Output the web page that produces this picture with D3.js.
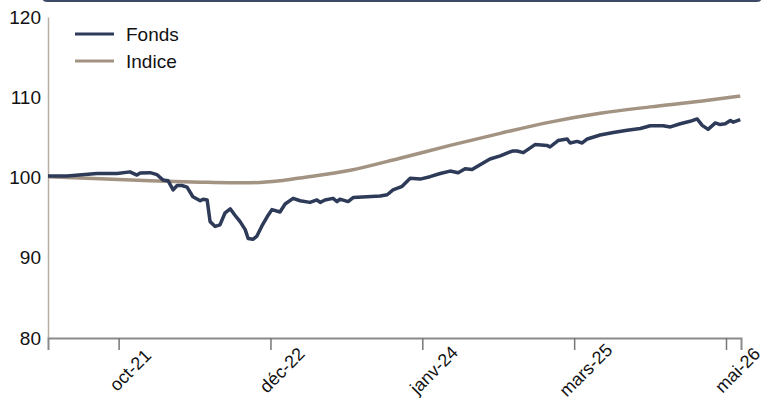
<!DOCTYPE html>
<html>
<head>
<meta charset="utf-8">
<script src="https://cdn.jsdelivr.net/npm/d3@7"></script>
<style>
	body { margin: 0; background: #fff; }
	svg { display: block; font-family: "Liberation Sans", Arial, sans-serif; }
</style>
</head>
<body>
<div id="perf-chart"></div>
<script>
var seriesNames = ["Fonds", "Indice"];
var seriesColors = ["#2d3a58", "#a39382"];

var fondsDates = ["2021-04-10","2021-06-01","2021-08-22","2021-10-16","2021-11-20","2021-12-09","2021-12-18",
	"2022-01-14","2022-02-02","2022-02-18","2022-03-04","2022-03-18","2022-03-29","2022-04-11","2022-04-25",
	"2022-05-11","2022-05-31","2022-06-08","2022-06-19","2022-06-27","2022-07-11","2022-07-24","2022-08-07",
	"2022-08-21","2022-09-03","2022-09-17","2022-10-01","2022-10-09","2022-10-22","2022-11-02","2022-11-16",
	"2022-11-30","2022-12-13","2023-01-04","2023-01-18","2023-02-09","2023-02-28","2023-03-27","2023-04-15",
	"2023-04-24","2023-05-07","2023-05-29","2023-06-09","2023-06-17","2023-07-09","2023-07-23","2023-08-30",
	"2023-10-05","2023-10-24","2023-11-09","2023-12-04","2023-12-26","2024-01-22","2024-02-18","2024-03-17",
	"2024-04-13","2024-05-05","2024-05-24","2024-06-12","2024-07-04","2024-07-31","2024-08-28","2024-09-30",
	"2024-10-13","2024-10-30","2024-12-01","2025-01-03","2025-01-11","2025-02-02","2025-02-27","2025-03-07",
	"2025-03-26","2025-04-09","2025-04-23","2025-05-28","2025-07-03","2025-08-10","2025-09-15","2025-10-12",
	"2025-11-16","2025-12-06","2026-01-02","2026-01-29","2026-02-17","2026-03-03","2026-03-19","2026-04-08",
	"2026-04-21","2026-05-05","2026-05-19","2026-05-27","2026-06-15"];
var fondsValues = [100.2,100.2,100.5,100.5,100.7,100.3,100.55,
	100.6,100.35,99.7,99.6,98.45,99.0,99.0,98.8,
	97.6,97.1,97.3,97.2,94.5,93.9,94.1,95.6,
	96.1,95.3,94.5,93.5,92.4,92.3,92.7,94.0,
	95.1,96.0,95.7,96.7,97.4,97.1,96.9,97.2,
	96.9,97.2,97.4,97.0,97.3,97.0,97.5,97.6,
	97.7,97.85,98.45,98.9,99.9,99.8,100.1,100.5,
	100.8,100.6,101.1,101.0,101.6,102.3,102.7,103.3,
	103.3,103.1,104.1,104.0,103.8,104.6,104.8,104.3,
	104.5,104.3,104.8,105.3,105.6,105.9,106.1,106.45,
	106.45,106.3,106.7,107.0,107.3,106.5,106.0,106.8,
	106.6,106.7,107.1,106.9,107.2];

var indiceDates = ["2021-04-10","2021-08-30","2022-01-14","2022-05-31","2022-08-20","2022-10-14","2023-01-04",
	"2023-02-28","2023-07-15","2023-11-28","2024-04-13","2024-08-28","2025-01-11","2025-05-28","2025-10-12",
	"2026-02-26","2026-06-15"];
var indiceValues = [100.1,99.85,99.6,99.42,99.35,99.35,99.6,
	99.95,100.9,102.4,104.0,105.5,106.9,108.0,108.8,
	109.5,110.15];

var tickDates = ["2021-10-20","2022-12-09","2024-01-28","2025-03-18","2026-05-07"];
var tickLabels = ["oct-21","déc-22","janv-24","mars-25","mai-26"];
var yTicks = [80, 90, 100, 110, 120];

var parseDate = d3.timeParse("%Y-%m-%d");

function makeSeries(dates, values) {
	return dates.map(function(d, i) { return {date: parseDate(d), value: values[i]}; });
}

var fonds = makeSeries(fondsDates, fondsValues);
var indice = makeSeries(indiceDates, indiceValues);

var W = 763, H = 398;
var margin = {top: 17, right: 22, bottom: 60, left: 48};
var w = W - margin.left - margin.right;
var h = H - margin.top - margin.bottom;

var svg = d3.select("#perf-chart").append("svg")
	.attr("width", W)
	.attr("height", H);

// bottom edge of the header box above the chart
svg.append("path")
	.attr("d", "M43,-10 L43,-3 Q43,1 47,1 L757,1 Q761,1 761,-3 L761,-10")
	.attr("fill", "none")
	.attr("stroke", "#3b4866")
	.attr("stroke-width", 2);

var x = d3.scaleTime()
	.domain([parseDate("2021-04-10"), parseDate("2026-06-17")])
	.range([0, w]);

var y = d3.scaleLinear()
	.domain([80, 120])
	.range([h, 0]);

var g = svg.append("g")
	.attr("transform", "translate(" + margin.left + "," + margin.top + ")");

// y axis: line plus labels only
var yAxis = g.append("g")
	.call(d3.axisLeft(y).tickValues(yTicks).tickSize(0).tickPadding(7));
yAxis.select(".domain").attr("stroke", "#b8aea2").attr("stroke-width", 1.5);
yAxis.selectAll("text")
	.style("font-size", "19px")
	.attr("fill", "#111");

// x axis
var xAxis = g.append("g")
	.attr("transform", "translate(0," + h + ")")
	.call(d3.axisBottom(x)
		.tickValues(tickDates.map(parseDate))
		.tickFormat(function(d, i) { return tickLabels[i]; })
		.tickSizeOuter(0)
		.tickSize(12));
xAxis.select(".domain").attr("stroke", "#8a8a8a").attr("stroke-width", 2);
xAxis.selectAll(".tick line").attr("stroke", "#777").attr("stroke-width", 1.5);
xAxis.selectAll("text")
	.style("font-size", "18px")
	.attr("fill", "#111")
	.attr("text-anchor", "middle")
	.attr("y", 0)
	.attr("dy", "0.35em")
	.attr("transform", "translate(11,32) rotate(-45)");

var line = d3.line()
	.x(function(d) { return x(d.date); })
	.y(function(d) { return y(d.value); });

var smooth = d3.line()
	.curve(d3.curveMonotoneX)
	.x(function(d) { return x(d.date); })
	.y(function(d) { return y(d.value); });

g.append("path")
	.datum(indice)
	.attr("fill", "none")
	.attr("stroke", seriesColors[1])
	.attr("stroke-width", 3.5)
	.attr("d", smooth);

g.append("path")
	.datum(fonds)
	.attr("fill", "none")
	.attr("stroke", seriesColors[0])
	.attr("stroke-width", 3.5)
	.attr("stroke-linejoin", "round")
	.attr("d", line);

// legend
var legend = svg.selectAll(".legend")
	.data(seriesNames)
	.enter()
	.append("g")
	.attr("class", "legend")
	.attr("transform", function(d, i) { return "translate(75," + (34 + i * 27) + ")"; });

legend.append("line")
	.attr("x1", 0).attr("x2", 39)
	.attr("stroke", function(d, i) { return seriesColors[i]; })
	.attr("stroke-width", 3);

legend.append("text")
	.attr("x", 51)
	.attr("dy", "0.35em")
	.style("font-size", "19px")
	.attr("fill", "#111")
	.text(function(d) { return d; });
</script>
</body>
</html>
